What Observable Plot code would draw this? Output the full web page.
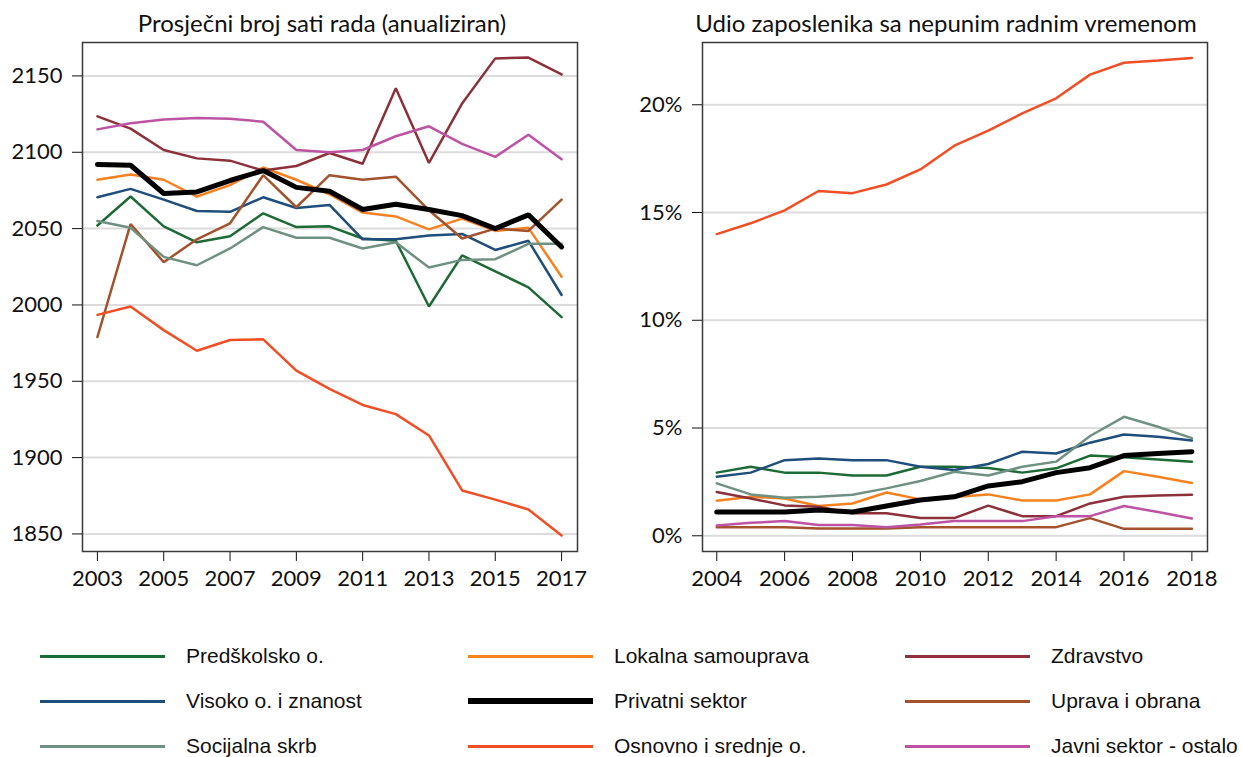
<!DOCTYPE html>
<html>
<head>
<meta charset="utf-8">
<script src="https://cdn.jsdelivr.net/npm/d3@7"></script>
<script src="https://cdn.jsdelivr.net/npm/@observablehq/plot@0.6"></script>
<style>
  html, body { margin: 0; padding: 0; background: #fff; }
  #chart { position: relative; width: 1242px; height: 757px; overflow: hidden; background: #fff; }
  .panel { position: absolute; top: 0; }
  .title { position: absolute; top: 8px; font-family: Lato, sans-serif; font-size: 24px; color: #111;
           transform: translateX(-50%); white-space: nowrap; line-height: 30px; }
  .lg-line { position: absolute; }
  .lg-text { position: absolute; font-family: "Liberation Sans", Arial, sans-serif; font-size: 21px;
             color: #111; line-height: 24px; white-space: nowrap; }
</style>
</head>
<body>
<div id="chart">
  <div class="panel" id="left"></div>
  <div class="panel" id="right" style="left:620px"></div>
  <div class="title" style="left:322px">Prosječni broj sati rada (anualiziran)</div>
  <div class="title" style="left:946px">Udio zaposlenika sa nepunim radnim vremenom</div>
  <div id="legend"></div>
</div>
<script>
// ---- Data ----
const seriesNames = ["Predškolsko o.", "Lokalna samouprava", "Zdravstvo",
                     "Visoko o. i znanost", "Privatni sektor", "Uprava i obrana",
                     "Socijalna skrb", "Osnovno i srednje o.", "Javni sektor - ostalo"];
const seriesColors = ["#1d6a35", "#f58220", "#8c3039", "#1f4e7a", "#000000", "#a2522c",
                      "#6f9181", "#f04e24", "#bd53a3"];

// Left panel: annualised average hours worked
const hoursYears = [2003, 2004, 2005, 2006, 2007, 2008, 2009, 2010, 2011, 2012, 2013, 2014, 2015, 2016, 2017];
const hoursPredskolsko = [2052, 2071, 2051.5, 2041, 2045, 2060, 2051, 2051.5, 2043.5, 2042, 1999, 2032.5, 2022, 2011.5, 1992];
const hoursLokalna     = [2082, 2085.5, 2082, 2071, 2078.5, 2090, 2082, 2072.5, 2060.5, 2058, 2049.5, 2056.5, 2048.5, 2050.5, 2018.5];
const hoursZdravstvo   = [2123.5, 2115.5, 2101.5, 2096, 2094.5, 2088, 2091, 2099.5, 2092.5, 2142, 2093, 2132, 2161.5, 2162, 2151];
const hoursVisoko      = [2070.5, 2076, 2069, 2061.5, 2061, 2070.5, 2063.5, 2065.5, 2043, 2043, 2045.5, 2046.5, 2036, 2042, 2006.5];
const hoursPrivatni    = [2092, 2091.5, 2073, 2074, 2081.5, 2088, 2077, 2074.5, 2062.5, 2066, 2062.5, 2058.5, 2050, 2059, 2038];
const hoursUprava      = [1979, 2053, 2028, 2043, 2053.5, 2085, 2064, 2085, 2082, 2084, 2062, 2043.5, 2050, 2048.5, 2069];
const hoursSocijalna   = [2055, 2050.5, 2031.5, 2026, 2037, 2051, 2044, 2044, 2037, 2041, 2024.5, 2029.5, 2030, 2040, 2040];
const hoursOsnovno     = [1993.5, 1999, 1983.5, 1970, 1977, 1977.5, 1957, 1945, 1934.5, 1928.5, 1914.5, 1878.5, 1872.5, 1866, 1849];
const hoursJavni       = [2115, 2119, 2121.5, 2122.5, 2122, 2120, 2101.5, 2100, 2101.5, 2110.5, 2117, 2105.5, 2097, 2111.5, 2095.5];
const hoursTicksX = [2003, 2005, 2007, 2009, 2011, 2013, 2015, 2017];
const hoursTicksY = [1850, 1900, 1950, 2000, 2050, 2100, 2150];

// Right panel: share of part-time employees (%)
const ptYears = [2004, 2005, 2006, 2007, 2008, 2009, 2010, 2011, 2012, 2013, 2014, 2015, 2016, 2017, 2018];
const ptPredskolsko = [2.93, 3.2, 2.93, 2.93, 2.8, 2.8, 3.2, 3.2, 3.15, 2.93, 3.13, 3.72, 3.64, 3.54, 3.44];
const ptLokalna     = [1.63, 1.81, 1.73, 1.38, 1.5, 2.01, 1.69, 1.8, 1.92, 1.64, 1.64, 1.92, 3.0, 2.74, 2.45];
const ptZdravstvo   = [2.03, 1.73, 1.41, 1.35, 1.04, 1.04, 0.82, 0.82, 1.4, 0.91, 0.91, 1.5, 1.81, 1.87, 1.9];
const ptVisoko      = [2.74, 2.93, 3.51, 3.59, 3.51, 3.51, 3.2, 3.05, 3.33, 3.9, 3.82, 4.32, 4.7, 4.6, 4.42];
const ptPrivatni    = [1.1, 1.1, 1.1, 1.2, 1.1, 1.38, 1.66, 1.81, 2.31, 2.51, 2.93, 3.16, 3.72, 3.82, 3.9];
const ptUprava      = [0.4, 0.4, 0.4, 0.34, 0.34, 0.34, 0.4, 0.4, 0.4, 0.4, 0.4, 0.82, 0.32, 0.32, 0.32];
const ptSocijalna   = [2.43, 1.92, 1.76, 1.81, 1.9, 2.2, 2.54, 2.97, 2.8, 3.2, 3.44, 4.63, 5.52, 5.06, 4.53];
const ptOsnovno     = [14.0, 14.5, 15.1, 16.0, 15.9, 16.3, 17.0, 18.1, 18.8, 19.6, 20.3, 21.4, 21.95, 22.05, 22.17];
const ptJavni       = [0.48, 0.6, 0.68, 0.5, 0.5, 0.4, 0.52, 0.68, 0.68, 0.68, 0.91, 0.91, 1.38, 1.1, 0.8];
const ptTicksX = [2004, 2006, 2008, 2010, 2012, 2014, 2016, 2018];
const ptTicksY = [0, 5, 10, 15, 20];

// ---- Build long tables ----
function toLong(years, arrays) {
  const rows = [];
  arrays.forEach((vals, i) => {
    vals.forEach((v, j) => rows.push({series: seriesNames[i], year: years[j], value: v}));
  });
  return rows;
}
const hoursData = toLong(hoursYears, [hoursPredskolsko, hoursLokalna, hoursZdravstvo, hoursVisoko,
  hoursPrivatni, hoursUprava, hoursSocijalna, hoursOsnovno, hoursJavni]);
const ptData = toLong(ptYears, [ptPredskolsko, ptLokalna, ptZdravstvo, ptVisoko,
  ptPrivatni, ptUprava, ptSocijalna, ptOsnovno, ptJavni]);

const PRIV = "Privatni sektor";

function panel(data, opts) {
  return Plot.plot({
    width: opts.width, height: 610,
    marginLeft: 82, marginRight: opts.marginRight, marginTop: 42, marginBottom: 59,
    style: {fontFamily: "Lato, sans-serif", fontSize: "22px", color: "#111", background: "transparent", overflow: "visible"},
    x: {domain: opts.xDomain, ticks: opts.xTicks, tickFormat: d => String(d), label: null, tickSize: 10, tickPadding: 9},
    y: {domain: opts.yDomain, ticks: opts.yTicks, tickFormat: opts.yFormat, label: null, tickSize: 10, tickPadding: 10},
    color: {domain: seriesNames, range: seriesColors},
    marks: [
      Plot.gridY(opts.yTicks, {stroke: "#dcdcdc", strokeOpacity: 1, strokeWidth: 2}),
      Plot.line(data.filter(d => d.series !== PRIV), {x: "year", y: "value", z: "series", stroke: "series", strokeWidth: 2.5, strokeLinejoin: "miter"}),
      Plot.line(data.filter(d => d.series === PRIV), {x: "year", y: "value", stroke: "series", strokeWidth: 5, strokeLinejoin: "miter"}),
      Plot.frame({stroke: "#3a3a3a", strokeWidth: 1.5})
    ]
  });
}

document.getElementById("left").append(panel(hoursData, {
  width: 620, marginRight: 43,
  xDomain: [2002.55, 2017.48], xTicks: hoursTicksX,
  yDomain: [1838.5, 2171.9], yTicks: hoursTicksY, yFormat: d => String(d)
}));
document.getElementById("right").append(panel(ptData, {
  width: 622, marginRight: 35,
  xDomain: [2003.58, 2018.46], xTicks: ptTicksX,
  yDomain: [-0.73, 22.89], yTicks: ptTicksY, yFormat: d => d + "%"
}));

// ---- Legend ----
const legend = document.getElementById("legend");
const colX = [40, 468, 905];
const rowY = [656, 701, 746];
seriesNames.forEach((name, i) => {
  const c = i % 3, r = Math.floor(i / 3);
  const thick = name === PRIV ? 6 : 3;
  const ln = document.createElement("div");
  ln.className = "lg-line";
  ln.style.left = colX[c] + "px";
  ln.style.width = "125px";
  ln.style.top = (rowY[r] - thick / 2) + "px";
  ln.style.height = thick + "px";
  ln.style.background = seriesColors[i];
  legend.append(ln);
  const tx = document.createElement("div");
  tx.className = "lg-text";
  tx.style.left = (colX[c] + 146) + "px";
  tx.style.top = (rowY[r] - 12) + "px";
  tx.textContent = name;
  legend.append(tx);
});
</script>
</body>
</html>
